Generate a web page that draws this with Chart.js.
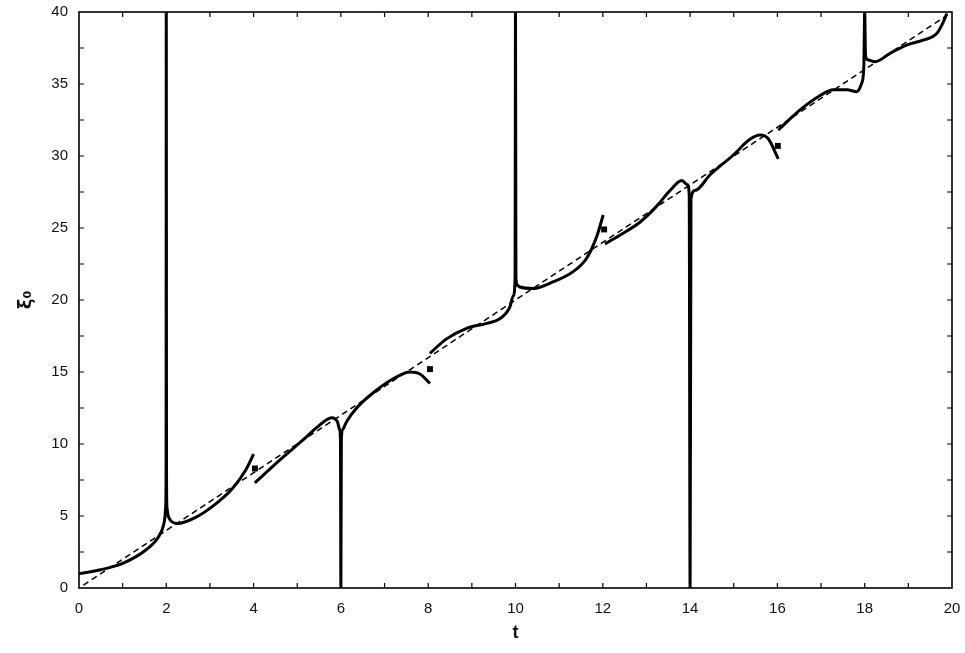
<!DOCTYPE html>
<html>
<head>
<meta charset="utf-8">
<script src="https://cdn.jsdelivr.net/npm/chart.js@4/dist/chart.umd.min.js"></script>
<style>
  html, body { margin: 0; padding: 0; background: #fff; }
  #wrap { width: 965px; height: 653px; }
</style>
</head>
<body>
<div id="wrap"><canvas id="myChart"></canvas></div>
<script>
// solid curve, one array per piece: [t, xi0]
const piece1 = [[0,1.0],[0.5,1.27],[1.0,1.71],[1.53,2.64],[1.83,3.6],[1.94,4.4],[1.97,4.95],[1.985,5.6],[1.995,8],[2.0,40],
  [2.005,8],[2.015,5.6],[2.04,5.07],[2.13,4.6],[2.25,4.48],[2.67,4.9],[3.05,5.65],[3.51,6.9],[3.82,8.2],[4.0,9.3]];
const piece2 = [[4.03,7.3],[4.68,9.1],[5.14,10.3],[5.45,11.15],[5.79,11.83],[5.92,11.55],[5.97,11.0],[5.99,10.2],[6.0,0],
  [6.01,10.2],[6.04,11.0],[6.13,11.55],[6.36,12.5],[6.82,13.75],[7.28,14.67],[7.58,15.0],[7.81,14.86],[8.04,14.2]];
const piece3 = [[8.04,16.3],[8.42,17.3],[8.88,18.03],[9.34,18.38],[9.64,18.7],[9.87,19.5],[9.95,20.3],[9.99,21.5],[10.0,40],
  [10.01,21.5],[10.05,21.0],[10.1,20.9],[10.41,20.8],[10.87,21.27],[11.32,21.97],[11.63,22.9],[11.86,24.4],[12.01,25.9]];
const piece4 = [[12.05,23.9],[12.39,24.5],[12.85,25.4],[13.23,26.5],[13.54,27.6],[13.81,28.3],[13.94,28.0],[13.98,27.3],[14.0,0],
  [14.02,27.0],[14.11,27.6],[14.46,28.7],[14.99,30.07],[15.37,31.16],[15.6,31.46],[15.79,31.2],[16.02,29.8]];
const piece5 = [[16.02,31.8],[16.52,33.2],[16.98,34.2],[17.28,34.6],[17.59,34.6],[17.82,34.47],[17.93,35.05],[17.98,36.2],[18.0,40],
  [18.02,36.9],[18.08,36.67],[18.24,36.55],[18.58,37.13],[18.96,37.7],[19.34,38.05],[19.65,38.5],[19.8,39.3],[19.88,39.9]];

// straight reference line (dashed)
const refLine = [[0.1,0.2],[19.9,39.8]];

// square markers
const markers = [[4.03,8.3],[8.04,15.2],[12.03,24.9],[16.01,30.7]];

const xTicks = [0, 2, 4, 6, 8, 10, 12, 14, 16, 18, 20];
const yTicks = [0, 5, 10, 15, 20, 25, 30, 35, 40];

const toXY = arr => arr.map(p => ({ x: p[0], y: p[1] }));

function solid(arr) {
  return {
    data: toXY(arr),
    borderColor: '#000',
    borderWidth: 3,
    pointRadius: 0,
    showLine: true,
    fill: false,
    cubicInterpolationMode: 'monotone'
  };
}

// frame around the plot with small inward ticks
const framePlugin = {
  id: 'frame',
  afterDraw(chart) {
    const { ctx, chartArea: a, scales: { x, y } } = chart;
    ctx.save();
    ctx.strokeStyle = '#000';
    ctx.lineWidth = 1.6;
    ctx.strokeRect(a.left, a.top, a.right - a.left, a.bottom - a.top);
    ctx.lineWidth = 1.2;
    ctx.beginPath();
    for (let t = 1; t < 20; t++) {
      const px = x.getPixelForValue(t);
      ctx.moveTo(px, a.bottom); ctx.lineTo(px, a.bottom - 5);
      ctx.moveTo(px, a.top); ctx.lineTo(px, a.top + 5);
    }
    for (let v = 2.5; v < 40; v += 2.5) {
      const py = y.getPixelForValue(v);
      ctx.moveTo(a.left, py); ctx.lineTo(a.left + 5, py);
      ctx.moveTo(a.right, py); ctx.lineTo(a.right - 5, py);
    }
    ctx.stroke();
    ctx.restore();
  }
};

const ctx = document.getElementById('myChart').getContext('2d');
const myChart = new Chart(ctx, {
  type: 'scatter',
  data: {
    datasets: [
      {
        data: toXY(refLine),
        borderColor: '#000',
        borderWidth: 1.5,
        borderDash: [6, 4],
        pointRadius: 0,
        showLine: true,
        fill: false
      },
      solid(piece1), solid(piece2), solid(piece3), solid(piece4), solid(piece5),
      {
        data: toXY(markers),
        pointStyle: 'rect',
        pointRadius: 4.2,
        backgroundColor: '#000',
        borderColor: '#000',
        borderWidth: 0,
        showLine: false
      }
    ]
  },
  options: {
    responsive: true,
    maintainAspectRatio: false,
    animation: false,
    layout: { padding: { left: 0, right: 13, top: 12, bottom: 0 } },
    plugins: { legend: { display: false }, tooltip: { enabled: false } },
    scales: {
      x: {
        type: 'linear',
        min: 0, max: 20,
        grid: { display: false, drawTicks: false },
        border: { display: false },
        afterBuildTicks: s => { s.ticks = xTicks.map(v => ({ value: v })); },
        afterFit: s => { s.height = 65; s.paddingLeft = 0; s.paddingRight = 0; },
        ticks: { color: '#111', padding: 12, font: { family: 'Liberation Sans, Arial, sans-serif', size: 15 } },
        title: { display: true, text: 't', color: '#111', padding: { bottom: 9 },
                 font: { family: 'Liberation Sans, Arial, sans-serif', size: 18, weight: 'bold' } }
      },
      y: {
        type: 'linear',
        min: 0, max: 40,
        grid: { display: false, drawTicks: false },
        border: { display: false },
        afterBuildTicks: s => { s.ticks = yTicks.map(v => ({ value: v })); },
        afterFit: s => { s.width = 79; s.paddingTop = 0; s.paddingBottom = 0; },
        ticks: { color: '#111', padding: 11, font: { family: 'Liberation Sans, Arial, sans-serif', size: 15 } },
        title: { display: true, text: 'ξ₀', color: '#111', padding: { top: 16 },
                 font: { family: 'DejaVu Sans, sans-serif', size: 18, weight: 'bold' } }
      }
    }
  },
  plugins: [framePlugin]
});
</script>
</body>
</html>
